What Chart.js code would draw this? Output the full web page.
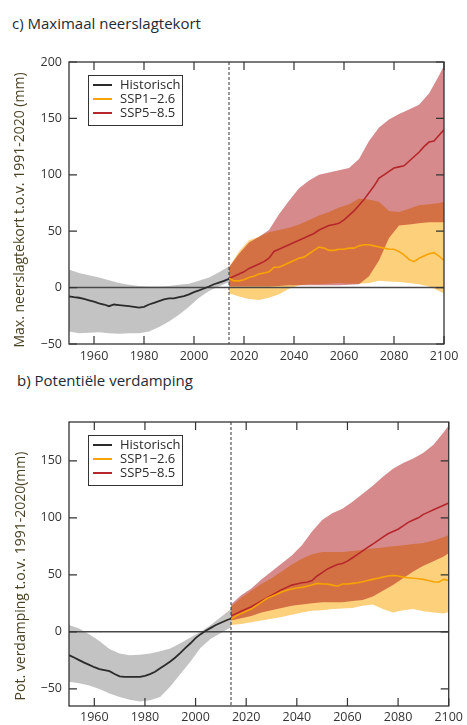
<!DOCTYPE html>
<html><head><meta charset="utf-8">
<script src="https://cdn.jsdelivr.net/npm/chart.js@4/dist/chart.umd.min.js"></script>
<style>
html,body{margin:0;padding:0;background:#fff;width:467px;height:725px;overflow:hidden;font-family:"Open Sans",sans-serif;}
.t{position:absolute;font-size:15px;line-height:20px;color:#1e2a36;white-space:nowrap;}
canvas{position:absolute;left:0;}
</style></head><body>
<div class="t" style="left:12px;top:13px">c) Maximaal neerslagtekort</div>
<div class="t" style="left:17px;top:370px">b) Potentiële verdamping</div>
<canvas id="c1" width="467" height="330" style="top:40px"></canvas>
<canvas id="c2" width="467" height="330" style="top:395px"></canvas>
<script>
// ---------- shared ----------
const xTicks = [1960, 1980, 2000, 2020, 2040, 2060, 2080, 2100];
const baseYear = 2014;
const legendLabels = ['Historisch', 'SSP1\u22122.6', 'SSP5\u22128.5'];

const histYears = [1950,1952,1954,1956,1958,1960,1962,1964,1966,1968,1970,1972,1974,1976,1978,1980,1982,1984,1986,1988,1990,1992,1994,1996,1998,2000,2002,2004,2006,2008,2010,2012,2014];
const histBandYears = [1950,1954,1958,1962,1966,1970,1974,1978,1982,1986,1990,1994,1998,2002,2006,2010,2014];
const bandYears = [2014,2018,2022,2026,2030,2034,2038,2042,2046,2050,2054,2058,2062,2066,2070,2074,2078,2082,2086,2090,2094,2098,2100];
const lineYears = [2014,2016,2018,2020,2022,2024,2026,2028,2030,2032,2034,2036,2038,2040,2042,2044,2046,2048,2050,2052,2054,2056,2058,2060,2062,2064,2066,2068,2070,2072,2074,2076,2078,2080,2082,2084,2086,2088,2090,2092,2094,2096,2098,2100];

// ---------- c) Maximaal neerslagtekort ----------
const nYTicks = [-50, 0, 50, 100, 150, 200];
const nHist = [-7.7,-8.5,-9,-10,-11.3,-12.5,-14,-15,-16.5,-15,-15.5,-16,-16.5,-17,-17.8,-17,-15,-13.5,-12,-10.5,-9.5,-9.5,-8.5,-7.5,-6,-4,-2.5,-0.8,1,3,4.5,6,7.7];
const nHistHigh = [16,13,11,9,6.5,4,2.5,1.5,1,1,1.5,2.5,3.5,6,9,13.5,19];
const nHistLow = [-39,-40.5,-40,-39.5,-40.5,-41,-40.5,-40.5,-39,-35,-30,-24,-17,-9,-3,1,5];
const nSsp1 = [8,6,6,7,9,10,12,13,14,18,18,20,22,24,26,27,30,33,36,35,33,33,34,34,35,35,37,38,38,37,36,35,34,34,32,29,25,23,26,28,30,31,28,24];
const nSsp5 = [8,10,12,14,17,19,21,23,26,32,34,36,38,40,42,44,46,48,51,53,55,56,57,60,64,68,73,78,84,90,97,100,103,106,107,108,112,116,120,125,129,130,135,140];
const nSsp1High = [18,32,42,45,49,51,53,56,60,64,67,71,74,79,78,76,68,67,70,73,74,75,76];
const nSsp1Low = [-5,-8,-10,-11,-9,-6,-1,2,3,3,3.5,4,3.5,3.5,4,6,5.5,5,4,3,1,-3,-5];
const nSsp5High = [18,30,40,45,51,65,77,88,95,100,102,104,106,114,130,142,149,154,158,162,172,188,197];
const nSsp5Low = [1,1,1,1,1,1.5,2,2,2,2,2,2,2.5,3,10,24,44,55,56,57,58,58,58];

// ---------- b) Potentiële verdamping ----------
const eYTicks = [-50, 0, 50, 100, 150];
const eHist = [-20.4,-22.5,-24.8,-27,-29,-31,-32.6,-33.5,-34.5,-37,-39,-39.4,-39.5,-39.5,-39.4,-38.5,-37,-35,-32,-29,-26,-22.5,-18.5,-14,-10,-5.5,-2,1,3.5,6,8,10,11.7];
const eHistHigh = [6,3,-2,-8,-15,-19,-20.5,-20,-19,-17,-14.5,-10,-5,0,6,13,20];
const eHistLow = [-43.7,-45,-47,-50,-54,-57,-59.5,-61,-60,-57,-48,-37,-26,-14,-6,-1,4];
const eSsp1 = [11,14,16,18,20,23,26,29,31,33,35,36.5,37.5,38.5,39,40,41,42.5,42,42,41,40,42,42,42.5,43,44,45,46,47,48,49,49.5,49,48,47.5,47,46.5,46,45,44,43.5,46,45];
const eSsp5 = [14,16,18,20,22,24.5,27,29.5,32,34.5,37,39,41,42,43,43.5,45,49,52,55,57,59,60,62,65,68,71,74,77,80,83,86,88,90,93,96,98,100,103,105,107,109,111,113];
const eSsp1High = [22,30,36,42,47,53,59,64,68,70,70,70,71,72,73,74,75,76,77,78,80,83,85];
const eSsp1Low = [6,7,8.5,10,11.5,13,15,17,18.5,19,20,20.5,21,23,24,20,17,19,20,18,17,16,17.5];
const eSsp5High = [24,32,38,46,53,60,67,76,88,98,104,108,114,121,128,136,143,148,152,157,164,175,181];
const eSsp5Low = [10,12,14,17,19,21,23,24,25,26,26,26,27,28,31,36,41,47,53,58,62,66,69];

// ---------- styles ----------
const COL = { hist:'#2b2b2b', ssp1:'#f7a400', ssp5:'#b5272b', histBand:'#c3c3c3', ssp1Band:'#fdd07c', ssp5Band:'#d68a8c', axis:'#333' };
const FONT = "'Open Sans', sans-serif";

function pts(xs, ys){ return xs.map((x,i)=>({x:x, y:ys[i]})); }
function fmt(v){ return v < 0 ? '\u2212' + Math.abs(v) : String(v); }

function lineDs(data, color, w){ return {data:data, borderColor:color, borderWidth:w, fill:false, pointRadius:0, tension:0}; }
function edgeDs(data){ return {data:data, borderColor:'rgba(0,0,0,0)', borderWidth:0, pointRadius:0, fill:false, tension:0}; }
function bandDs(data, color, target){ return {data:data, borderColor:'rgba(0,0,0,0)', borderWidth:0, pointRadius:0, backgroundColor:color, fill:target, tension:0}; }

function makeChart(id, o){
  const plugin = {
    id:'deco'+id,
    beforeDraw(chart){ chart.ctx.globalCompositeOperation = 'multiply'; },
    beforeDatasetsDraw(chart){
      const ctx = chart.ctx; ctx.globalCompositeOperation = 'source-over';
      const a = chart.chartArea, xs = chart.scales.x, ys = chart.scales.y;
      ctx.save();
      const y0 = ys.getPixelForValue(0);
      ctx.strokeStyle = '#484848'; ctx.lineWidth = 1.5;
      ctx.beginPath(); ctx.moveTo(a.left, y0); ctx.lineTo(a.right, y0); ctx.stroke();
      const xb = xs.getPixelForValue(baseYear);
      ctx.strokeStyle = '#333'; ctx.lineWidth = 1; ctx.setLineDash([3,2]);
      ctx.beginPath(); ctx.moveTo(xb, a.top); ctx.lineTo(xb, a.bottom); ctx.stroke();
      ctx.restore();
    },
    afterDraw(chart){
      const ctx = chart.ctx, a = chart.chartArea, xs = chart.scales.x, ys = chart.scales.y;
      ctx.save();
      ctx.globalCompositeOperation = 'source-over';
      ctx.strokeStyle = COL.axis; ctx.lineWidth = 1.3;
      ctx.strokeRect(a.left, a.top, a.right - a.left, a.bottom - a.top);
      const tl = 8;
      ctx.lineWidth = 1.2;
      ctx.beginPath();
      xTicks.forEach(v => { const p = xs.getPixelForValue(v); ctx.moveTo(p, a.bottom); ctx.lineTo(p, a.bottom - tl); ctx.moveTo(p, a.top); ctx.lineTo(p, a.top + tl); });
      o.yTicks.forEach(v => { const p = ys.getPixelForValue(v); ctx.moveTo(a.left, p); ctx.lineTo(a.left + tl, p); ctx.moveTo(a.right - tl, p); ctx.lineTo(a.right, p); });
      ctx.stroke();
      // y title
      ctx.save();
      ctx.translate(o.titleX, o.titleY); ctx.rotate(-Math.PI/2);
      ctx.font = '14px ' + FONT; ctx.fillStyle = '#4a4224'; ctx.textAlign = 'center'; ctx.textBaseline = 'middle';
      ctx.fillText(o.yTitle, 0, 0);
      ctx.restore();
      // legend
      const L = o.legend;
      ctx.fillStyle = '#fff'; ctx.fillRect(L.x, L.y, L.w, L.h);
      ctx.strokeStyle = '#333'; ctx.lineWidth = 1; ctx.strokeRect(L.x + 0.5, L.y + 0.5, L.w, L.h);
      const cols = [COL.hist, COL.ssp1, COL.ssp5];
      ctx.font = '13px ' + FONT; ctx.textAlign = 'left'; ctx.textBaseline = 'middle';
      legendLabels.forEach((t, i) => {
        const cy = L.y + 10 + i * 14;
        ctx.strokeStyle = cols[i]; ctx.lineWidth = 2;
        ctx.beginPath(); ctx.moveTo(L.x + 5, cy); ctx.lineTo(L.x + 24, cy); ctx.stroke();
        ctx.fillStyle = '#2a2a2a'; ctx.fillText(t, L.x + 32, cy);
      });
      ctx.restore();
    }
  };
  return new Chart(document.getElementById(id), {
    type:'line',
    data:{ datasets:[
      lineDs(pts(histYears, o.hist), COL.hist, 1.8),
      lineDs(pts(lineYears, o.ssp1), COL.ssp1, 1.6),
      lineDs(pts(lineYears, o.ssp5), COL.ssp5, 1.6),
      edgeDs(pts(histBandYears, o.histLow)),
      bandDs(pts(histBandYears, o.histHigh), COL.histBand, 3),
      edgeDs(pts(bandYears, o.ssp1Low)),
      bandDs(pts(bandYears, o.ssp1High), COL.ssp1Band, 5),
      edgeDs(pts(bandYears, o.ssp5Low)),
      bandDs(pts(bandYears, o.ssp5High), COL.ssp5Band, 7)
    ]},
    options:{
      responsive:false, animation:false, devicePixelRatio:1,
      layout:{ padding:o.padding },
      plugins:{ legend:{display:false}, tooltip:{enabled:false}, filler:{drawTime:'beforeDatasetsDraw', propagate:false} },
      scales:{
        x:{ type:'linear', min:1950, max:2100,
            grid:{display:false, drawTicks:false}, border:{display:false},
            afterBuildTicks: s => { s.ticks = xTicks.map(v => ({value:v})); },
            afterFit: s => { s.height = o.xHeight; },
            ticks:{ callback: v => fmt(v), padding:o.xPad, color:'#333', font:{family:FONT, size:12.5}, maxRotation:0, autoSkip:false } },
        y:{ type:'linear', min:o.yMin, max:o.yMax,
            grid:{display:false, drawTicks:false}, border:{display:false},
            afterBuildTicks: s => { s.ticks = o.yTicks.map(v => ({value:v})); },
            afterFit: s => { s.width = 69; },
            ticks:{ callback: v => fmt(v), padding:7, color:'#333', font:{family:FONT, size:12.5} } }
      }
    },
    plugins:[plugin]
  });
}

makeChart('c1', {
  hist:nHist, histHigh:nHistHigh, histLow:nHistLow, ssp1:nSsp1, ssp5:nSsp5,
  ssp1High:nSsp1High, ssp1Low:nSsp1Low, ssp5High:nSsp5High, ssp5Low:nSsp5Low,
  yMin:-50, yMax:200, yTicks:nYTicks,
  padding:{top:22, right:23, left:0, bottom:0}, xHeight:26, xPad:5,
  yTitle:'Max. neerslagtekort t.o.v. 1991-2020 (mm)', titleX:20, titleY:170,
  legend:{x:88, y:35, w:94, h:50}
});
makeChart('c2', {
  hist:eHist, histHigh:eHistHigh, histLow:eHistLow, ssp1:eSsp1, ssp5:eSsp5,
  ssp1High:eSsp1High, ssp1Low:eSsp1Low, ssp5High:eSsp5High, ssp5Low:eSsp5Low,
  yMin:-65, yMax:184, yTicks:eYTicks,
  padding:{top:27, right:18, left:0, bottom:0}, xHeight:19, xPad:4,
  yTitle:'Pot. verdamping t.o.v. 1991-2020(mm)', titleX:21, titleY:181,
  legend:{x:88, y:40, w:94, h:50}
});
</script>
</body></html>
